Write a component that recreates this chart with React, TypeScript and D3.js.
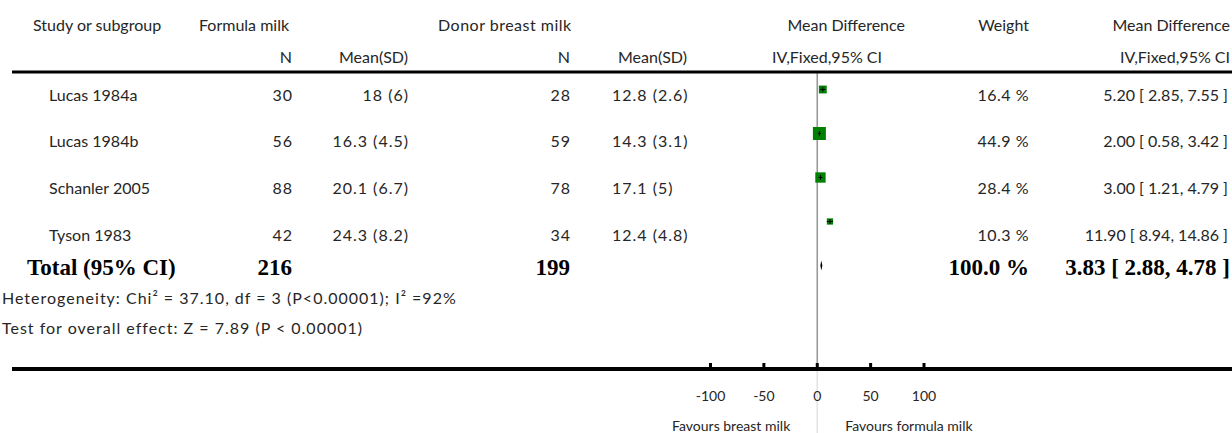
import React from "react";
import * as d3 from "d3";

// Trials included in the meta-analysis
const studies = ["Lucas 1984a", "Lucas 1984b", "Schanler 2005", "Tyson 1983"];
const formulaN = [30, 56, 88, 42];
const formulaMean = [18, 16.3, 20.1, 24.3];
const formulaSD = [6, 4.5, 6.7, 8.2];
const donorN = [28, 59, 78, 34];
const donorMean = [12.8, 14.3, 17.1, 12.4];
const donorSD = [2.6, 3.1, 5, 4.8];
const meanDiff = [5.2, 2.0, 3.0, 11.9];
const ciLow = [2.85, 0.58, 1.21, 8.94];
const ciHigh = [7.55, 3.42, 4.79, 14.86];
const weights = [16.4, 44.9, 28.4, 10.3];

// Pooled estimate
const totalFormulaN = 216;
const totalDonorN = 199;
const totalWeight = 100.0;
const totalMD = 3.83;
const totalLow = 2.88;
const totalHigh = 4.78;

const axisTicks = [-100, -50, 0, 50, 100];
const heterogeneityText = "Heterogeneity: Chi² = 37.10, df = 3 (P<0.00001); I² =92%";
const overallText = "Test for overall effect: Z = 7.89 (P < 0.00001)";

const W = 1232;
const H = 433;
const FONT = "Lato, 'Open Sans', sans-serif";
const SERIF = "'Liberation Serif', 'DejaVu Serif', serif";
const TXT = "#262626";

const x = d3.scaleLinear().domain([-100, 100]).range([710.5, 924]);
const textRow = d3.scaleLinear().domain([0, 1]).range([95, 141.7]);
const markRow = d3.scaleLinear().domain([0, 1]).range([89.5, 133.5]);
const boxSide = d3.scaleSqrt().domain([0, 100]).range([0, 19.4]);

const fmtMS = (m: number, s: number) => `${m} (${s})`;
const f2 = d3.format(".2f");
const ciText = (m: number, l: number, h: number) => `${f2(m)} [ ${f2(l)}, ${f2(h)} ]`;

export default function App() {
  const zeroX = x(0);
  const totalY = 267;
  const totalMarkY = markRow(4);
  const axisY = 369;
  const base = { fontFamily: FONT, fontSize: 16, fill: TXT } as const;
  const num = { letterSpacing: 1 } as const;

  return (
    <svg
      width={W}
      height={H}
      style={{ position: "absolute", left: 0, top: 0, background: "#fff" }}
    >
      {/* header */}
      <g {...base}>
        <text x={33} y={25} dy="0.35em">Study or subgroup</text>
        <text x={199} y={25} dy="0.35em">Formula milk</text>
        <text x={292} y={57} dy="0.35em" textAnchor="end">N</text>
        <text x={408} y={57} dy="0.35em" textAnchor="end">Mean(SD)</text>
        <text x={438} y={25} dy="0.35em" letterSpacing={0.5}>Donor breast milk</text>
        <text x={570} y={57} dy="0.35em" textAnchor="end">N</text>
        <text x={687} y={57} dy="0.35em" textAnchor="end">Mean(SD)</text>
        <text x={905} y={25} dy="0.35em" textAnchor="end">Mean Difference</text>
        <text x={882} y={57} dy="0.35em" textAnchor="end">IV,Fixed,95% CI</text>
        <text x={1029} y={25} dy="0.35em" textAnchor="end">Weight</text>
        <text x={1230} y={25} dy="0.35em" textAnchor="end">Mean Difference</text>
        <text x={1230} y={57} dy="0.35em" textAnchor="end">IV,Fixed,95% CI</text>
      </g>

      {/* zero line */}
      <line x1={zeroX} x2={zeroX} y1={72} y2={axisY} stroke="#999" strokeWidth={1.6} />
      <line x1={zeroX} x2={zeroX} y1={axisY} y2={H} stroke="#e4e4e4" strokeWidth={1.6} />

      {/* top rule */}
      <line x1={12} x2={W} y1={72} y2={72} stroke="#000" strokeWidth={3} />

      {/* study rows */}
      {studies.map((s, i) => {
        const ty = textRow(i);
        const my = markRow(i);
        const side = boxSide(weights[i]);
        return (
          <g key={s}>
            <g {...base}>
              <text x={49} y={ty} dy="0.35em">{s}</text>
              <text x={293} y={ty} dy="0.35em" textAnchor="end" {...num}>{formulaN[i]}</text>
              <text x={409} y={ty} dy="0.35em" textAnchor="end" {...num}>{fmtMS(formulaMean[i], formulaSD[i])}</text>
              <text x={571} y={ty} dy="0.35em" textAnchor="end" {...num}>{donorN[i]}</text>
              <text x={612} y={ty} dy="0.35em" {...num}>{fmtMS(donorMean[i], donorSD[i])}</text>
              <text x={1029} y={ty} dy="0.35em" textAnchor="end" letterSpacing={0.5}>{`${weights[i].toFixed(1)} %`}</text>
              <text x={1228} y={ty} dy="0.35em" textAnchor="end">{ciText(meanDiff[i], ciLow[i], ciHigh[i])}</text>
            </g>
            <rect
              x={x(meanDiff[i]) - side / 2}
              y={my - side / 2}
              width={side}
              height={side}
              fill="#008000"
            />
            <line x1={x(ciLow[i])} x2={x(ciHigh[i])} y1={my} y2={my} stroke="#000" strokeWidth={1} />
            <line x1={x(meanDiff[i])} x2={x(meanDiff[i])} y1={my - 2.5} y2={my + 2.5} stroke="#000" strokeWidth={1} />
          </g>
        );
      })}

      {/* pooled row */}
      <g fontFamily={SERIF} fontWeight="bold" fontSize={23} fill="#000">
        <text x={27} y={totalY} dy="0.35em">Total (95% CI)</text>
        <text x={292} y={totalY} dy="0.35em" textAnchor="end">{totalFormulaN}</text>
        <text x={570} y={totalY} dy="0.35em" textAnchor="end">{totalDonorN}</text>
        <text x={1029} y={totalY} dy="0.35em" textAnchor="end">{`${totalWeight.toFixed(1)} %`}</text>
        <text x={1230} y={totalY} dy="0.35em" textAnchor="end">{ciText(totalMD, totalLow, totalHigh)}</text>
      </g>
      <path
        d={`M${x(totalLow)},${totalMarkY} L${x(totalMD)},${totalMarkY - 5} L${x(totalHigh)},${totalMarkY} L${x(totalMD)},${totalMarkY + 5} Z`}
        fill="#000"
      />

      {/* statistics */}
      <g {...base} {...num}>
        <text x={2} y={298} dy="0.35em">{heterogeneityText}</text>
        <text x={2} y={328} dy="0.35em">{overallText}</text>
      </g>

      {/* axis */}
      <line x1={12} x2={W} y1={axisY} y2={axisY} stroke="#000" strokeWidth={4} />
      {axisTicks.map((t) => (
        <g key={t}>
          <line x1={x(t)} x2={x(t)} y1={axisY} y2={axisY - 6} stroke="#000" strokeWidth={3} />
          <text x={x(t)} y={396} dy="0.35em" textAnchor="middle" {...base} fontSize={14}>
            {t}
          </text>
        </g>
      ))}
      <text x={zeroX - 27} y={426} dy="0.35em" textAnchor="end" {...base} fontSize={14}>
        Favours breast milk
      </text>
      <text x={zeroX + 28} y={426} dy="0.35em" {...base} fontSize={14}>
        Favours formula milk
      </text>
    </svg>
  );
}
